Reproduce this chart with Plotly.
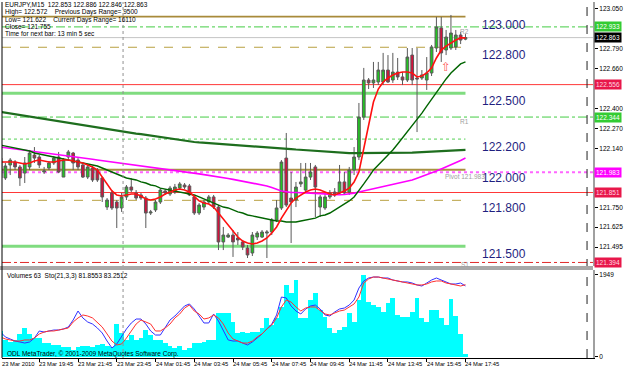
import plotly.graph_objects as go

# ---------------- data ----------------
bars = list(range(97))
time_tick_bars = [0, 8, 16, 24, 32, 40, 48, 56, 64, 72, 80, 88, 96]
time_tick_labels = ["23 Mar 2010", "23 Mar 19:45", "23 Mar 21:45", "23 Mar 23:45",
                    "24 Mar 01:45", "24 Mar 03:45", "24 Mar 05:45", "24 Mar 07:45",
                    "24 Mar 09:45", "24 Mar 11:45", "24 Mar 13:45", "24 Mar 15:45",
                    "24 Mar 17:45"]

opens = [122.076,121.946,122.031,122.050,122.018,121.978,122.018,122.096,122.083,121.985,
         122.011,122.044,122.083,121.952,122.083,122.109,122.063,122.031,121.952,122.011,
         121.998,121.946,121.756,121.848,121.789,121.750,121.822,121.887,121.848,121.835,
         121.815,121.717,121.737,121.789,121.861,121.841,121.854,121.880,121.900,121.894,
         121.822,121.717,121.756,121.789,121.822,121.756,121.528,121.560,121.573,121.554,
         121.528,121.488,121.456,121.560,121.560,121.586,121.593,121.671,121.750,122.076,
         121.815,121.802,121.907,121.867,121.952,122.018,121.756,121.750,121.822,121.854,
         121.848,121.920,121.854,121.998,122.083,122.344,122.586,122.567,122.573,122.573,
         122.651,122.586,122.638,122.606,122.586,122.749,122.599,122.599,122.586,122.632,
         122.795,122.926,122.782,122.795,122.802,122.880,122.853]
highs = [122.090,122.044,122.076,122.063,122.031,122.083,122.129,122.148,122.096,122.018,
         122.057,122.090,122.116,122.076,122.129,122.116,122.076,122.044,122.031,122.024,
         122.011,121.952,121.815,121.867,121.802,121.848,121.900,121.946,121.867,121.848,
         121.828,121.737,121.802,121.880,121.874,121.894,121.907,121.920,121.913,121.907,
         121.835,121.782,121.802,121.835,121.835,121.769,121.626,121.586,121.606,121.593,
         121.541,121.508,121.593,121.599,121.606,121.606,121.684,121.802,122.063,122.240,
         121.985,121.920,122.044,122.044,122.044,122.031,121.835,121.848,121.867,121.880,
         122.031,121.985,122.018,122.148,122.436,122.665,122.599,122.704,122.704,122.763,
         122.749,122.763,122.730,122.638,122.795,122.795,122.795,122.651,122.736,122.815,
         122.998,122.998,122.913,123.011,122.913,122.900,122.886]
lows = [121.926,121.933,121.965,121.998,121.894,121.913,121.998,122.044,122.011,121.972,
        121.998,122.031,121.978,121.952,122.063,121.998,121.998,121.946,121.939,121.920,
        121.920,121.789,121.737,121.737,121.619,121.724,121.802,121.854,121.802,121.802,
        121.619,121.704,121.724,121.776,121.835,121.828,121.841,121.867,121.874,121.828,
        121.704,121.704,121.737,121.776,121.743,121.475,121.475,121.554,121.430,121.508,
        121.475,121.423,121.436,121.541,121.554,121.423,121.573,121.658,121.737,121.756,
        121.521,121.756,121.887,121.854,121.933,121.691,121.691,121.737,121.809,121.822,
        121.835,121.835,121.835,121.965,122.063,122.325,122.527,122.534,122.553,122.553,
        122.567,122.567,122.586,122.553,122.573,122.553,122.246,122.586,122.521,122.612,
        122.769,122.704,122.749,122.782,122.782,122.821,122.846]
closes = [121.946,122.024,122.063,122.018,121.946,122.044,122.109,122.076,122.031,121.992,
          122.044,122.076,121.985,122.063,122.116,122.044,122.018,121.952,122.018,121.933,
          121.933,121.822,121.802,121.750,121.750,121.822,121.887,121.867,121.815,121.815,
          121.717,121.724,121.789,121.867,121.848,121.880,121.887,121.907,121.887,121.835,
          121.717,121.769,121.789,121.822,121.756,121.528,121.573,121.573,121.528,121.541,
          121.495,121.443,121.573,121.586,121.593,121.593,121.671,121.750,122.050,121.769,
          121.789,121.887,121.920,121.952,121.985,121.887,121.822,121.822,121.848,121.835,
          121.920,121.848,121.998,122.083,122.344,122.586,122.567,122.586,122.651,122.651,
          122.573,122.638,122.606,122.586,122.736,122.586,122.593,122.619,122.632,122.802,
          122.932,122.763,122.867,122.893,122.880,122.847,122.863]

ma_fast = [122.050,122.050,122.050,122.050,122.044,122.037,122.044,122.057,122.063,122.057,
           122.050,122.050,122.057,122.063,122.063,122.057,122.050,122.044,122.031,122.018,
           121.998,121.952,121.900,121.861,121.835,121.828,121.835,121.841,121.841,121.828,
           121.809,121.802,121.809,121.822,121.841,121.854,121.867,121.874,121.867,121.854,
           121.822,121.796,121.782,121.776,121.756,121.717,121.671,121.632,121.593,121.560,
           121.534,121.521,121.515,121.521,121.534,121.554,121.586,121.626,121.684,121.737,
           121.782,121.815,121.835,121.854,121.867,121.874,121.867,121.854,121.841,121.835,
           121.848,121.861,121.880,121.920,121.985,122.142,122.292,122.442,122.527,122.573,
           122.599,122.619,122.632,122.638,122.638,122.632,122.606,122.612,122.632,122.665,
           122.730,122.782,122.808,122.828,122.847,122.861,122.861]
ma_mid = [122.161,122.155,122.148,122.142,122.135,122.129,122.122,122.109,122.103,122.096,
          122.090,122.083,122.076,122.070,122.063,122.057,122.050,122.044,122.037,122.031,
          122.024,122.011,121.998,121.985,121.972,121.959,121.946,121.939,121.933,121.920,
          121.913,121.900,121.894,121.880,121.874,121.867,121.861,121.854,121.848,121.841,
          121.835,121.822,121.809,121.796,121.782,121.769,121.756,121.750,121.737,121.724,
          121.717,121.704,121.698,121.691,121.684,121.678,121.671,121.665,121.665,121.658,
          121.658,121.658,121.665,121.671,121.678,121.684,121.698,121.704,121.717,121.737,
          121.756,121.776,121.796,121.822,121.861,121.907,121.952,121.998,122.031,122.063,
          122.096,122.129,122.168,122.207,122.246,122.286,122.331,122.370,122.416,122.462,
          122.507,122.553,122.593,122.632,122.665,122.691,122.704]
ma_magenta = [122.148,122.144,122.140,122.137,122.133,122.129,122.125,122.121,122.117,122.113,
              122.109,122.105,122.100,122.095,122.091,122.086,122.081,122.077,122.072,122.068,
              122.063,122.059,122.054,122.050,122.045,122.041,122.036,122.032,122.027,122.023,
              122.018,122.014,122.010,122.006,122.002,121.998,121.994,121.990,121.986,121.982,
              121.978,121.973,121.968,121.962,121.957,121.952,121.947,121.942,121.937,121.931,
              121.926,121.920,121.913,121.907,121.900,121.894,121.883,121.872,121.861,121.856,
              121.851,121.851,121.850,121.849,121.849,121.848,121.845,121.842,121.838,121.835,
              121.836,121.838,121.841,121.847,121.854,121.861,121.867,121.874,121.880,121.887,
              121.894,121.902,121.910,121.918,121.926,121.933,121.944,121.955,121.966,121.978,
              121.991,122.005,122.018,122.031,122.045,122.060,122.076]
ma_slow = [122.377,122.372,122.367,122.361,122.356,122.351,122.346,122.340,122.335,122.330,
           122.325,122.320,122.314,122.309,122.304,122.299,122.293,122.288,122.283,122.277,
           122.272,122.268,122.263,122.259,122.254,122.250,122.245,122.241,122.236,122.232,
           122.227,122.222,122.218,122.213,122.208,122.204,122.199,122.195,122.190,122.186,
           122.181,122.178,122.176,122.173,122.171,122.168,122.165,122.163,122.160,122.158,
           122.155,122.153,122.151,122.149,122.147,122.145,122.143,122.141,122.139,122.137,
           122.135,122.132,122.130,122.127,122.125,122.122,122.119,122.117,122.114,122.112,
           122.109,122.109,122.108,122.108,122.108,122.108,122.108,122.108,122.108,122.108,
           122.108,122.109,122.109,122.109,122.109,122.111,122.113,122.115,122.117,122.119,
           122.120,122.122,122.123,122.125,122.126,122.128,122.129]

volumes = [618,404,357,404,547,689,547,452,452,333,
           333,285,285,238,238,166,238,261,261,238,
           285,309,261,238,784,570,404,523,404,452,
           642,523,404,404,333,261,214,261,166,214,
           333,333,357,404,404,1046,1046,1046,832,570,
           594,570,594,594,689,927,761,927,1189,1711,
           1521,1830,927,927,1355,1521,1117,951,689,570,
           642,713,1046,832,1355,1949,1307,1236,1189,1070,
           1284,1402,998,951,951,1070,1402,927,832,1117,
           1117,927,761,1379,975,547,63]
sto_main = [29.5,23.9,21.6,19.3,18.2,17.0,18.2,22.7,30.7,29.5,
            30.7,31.8,31.8,33.0,35.2,43.2,53.4,45.5,40.9,38.6,
            34.1,28.4,19.3,11.4,15.9,25.0,33.0,39.8,44.3,44.3,
            38.6,30.7,26.1,26.1,34.1,43.2,47.7,53.4,59.1,61.4,
            55.7,47.7,39.8,39.8,50.0,42.0,30.7,20.5,19.3,19.3,
            17.0,14.8,18.2,22.7,27.3,33.0,38.6,48.9,69.3,68.2,
            59.1,53.4,50.0,55.7,59.1,60.2,55.7,48.9,47.7,52.3,
            55.7,56.8,60.2,65.9,79.5,87.5,90.9,92.0,92.0,90.9,
            90.9,88.6,87.5,86.4,86.4,85.2,83.0,81.8,85.2,88.6,
            90.9,88.6,86.4,84.1,84.1,85.2,81.9]
sto_signal = [23.9,21.6,20.5,19.3,19.3,20.5,20.5,22.7,27.3,29.5,
              30.7,30.7,31.8,33.0,34.1,40.9,45.5,48.9,47.7,45.5,
              39.8,35.2,27.3,19.3,14.8,15.9,22.7,30.7,38.6,43.2,
              40.9,38.6,30.7,30.7,34.1,38.6,45.5,50.0,56.8,60.2,
              53.4,50.0,44.3,45.5,48.9,45.5,38.6,28.4,21.6,19.3,
              17.0,17.0,19.3,23.9,27.3,33.0,37.5,45.5,58.0,65.9,
              63.6,58.0,53.4,56.8,58.0,58.0,54.5,50.0,48.9,51.1,
              53.4,54.5,58.0,61.4,69.3,85.2,89.8,92.0,92.0,90.9,
              89.8,88.6,87.5,86.4,85.2,84.1,83.0,83.0,84.1,86.4,
              87.5,87.5,85.2,84.1,83.0,81.8,83.3]

price_ticks = [123.050, 122.920, 122.790, 122.660, 122.530, 122.400, 122.270,
               122.140, 122.010, 121.880, 121.750, 121.625, 121.495]
hidden_price_ticks = [122.920, 122.530, 122.010, 121.880]   # covered by price boxes
round_levels = [123.000, 122.800, 122.500, 122.200, 122.000, 121.800, 121.500]
round_labels = ["123.000", "122.800", "122.500", "122.200", "122.000", "121.800", "121.500"]
pivot_names = ["R2", "R1", "Pivot 121.983", "S1"]
pivot_levels = [122.933, 122.344, 121.983, 121.394]
red_levels = [122.556, 121.851]
current_price = 122.863
vol_ticks = [0, 1949]
info_lines = ["EURJPY,M15  122.853 122.886 122.846 122.863",
              "High= 122.572    Previous Days Range= 9500",
              "Low= 121.622    Current Days Range= 16110",
              "Close= 121.755",
              "Time for next bar: 13 min 5 sec"]
indicator_title = "Volumes 63  Sto(21,3,3) 81.8553 83.2512"
copyright_text = "ODL MetaTrader, © 2001-2009 MetaQuotes Software Corp."
day_separator_bar = 25.3
shift_bar = 121.1
last_bar = 96

FONT = "Liberation Sans, Arial, sans-serif"
XR = [0.305, 122.33]

fig = go.Figure()

# ---- indicator window ----
fig.add_trace(go.Bar(x=bars, y=volumes, marker=dict(color="#00FFFF", line=dict(width=0)),
                     width=1.0, xaxis="x2", yaxis="y2", hoverinfo="skip"))
fig.add_trace(go.Scatter(x=bars, y=sto_main, mode="lines", line=dict(color="#3030FF", width=1),
                         xaxis="x2", yaxis="y3", hoverinfo="skip"))
fig.add_trace(go.Scatter(x=bars, y=sto_signal, mode="lines", line=dict(color="#FF3030", width=1),
                         xaxis="x2", yaxis="y3", hoverinfo="skip"))

# ---- main window ----
fig.add_trace(go.Candlestick(x=bars, open=opens, high=highs, low=lows, close=closes,
                             increasing=dict(fillcolor="#22C422", line=dict(color="#5A5A5A", width=1)),
                             decreasing=dict(fillcolor="#D2123C", line=dict(color="#5A5A5A", width=1)),
                             whiskerwidth=0, xaxis="x", yaxis="y", hoverinfo="skip"))
fig.add_trace(go.Scatter(x=bars, y=ma_slow, mode="lines", line=dict(color="#1E6E1E", width=2.2),
                         xaxis="x", yaxis="y", hoverinfo="skip"))
fig.add_trace(go.Scatter(x=bars, y=ma_magenta, mode="lines", line=dict(color="#FF00FF", width=1.6),
                         xaxis="x", yaxis="y", hoverinfo="skip"))
fig.add_trace(go.Scatter(x=bars, y=ma_mid, mode="lines", line=dict(color="#006400", width=1.4),
                         xaxis="x", yaxis="y", hoverinfo="skip"))
fig.add_trace(go.Scatter(x=bars, y=ma_fast, mode="lines", line=dict(color="#FF1010", width=1.6),
                         xaxis="x", yaxis="y", hoverinfo="skip"))

shapes = []
# round-number levels (end at the last bar)
round_styles = [("#A88A3A", 1.6, "solid"), ("#B8A040", 1, "dash"), ("#80DC80", 3, "solid"),
                ("#55D055", 1, "dot"), ("#A89040", 2, "solid"), ("#B8A040", 1, "dash"),
                ("#80DC80", 3, "solid")]
for lv, (c, w, d) in zip(round_levels, round_styles):
    shapes.append(dict(type="line", xref="x", yref="y", x0=XR[0], x1=last_bar, y0=lv, y1=lv,
                       line=dict(color=c, width=w, dash=d), layer="below"))
# pivot levels (full width)
pivot_styles = [("#44CC44", 1, "dashdot"), ("#44CC44", 1, "dashdot"),
                ("#FF66FF", 2, "dot"), ("#E02828", 1, "dashdot")]
for lv, (c, w, d) in zip(pivot_levels, pivot_styles):
    shapes.append(dict(type="line", xref="paper", yref="y", x0=0, x1=1, y0=lv, y1=lv,
                       line=dict(color=c, width=w, dash=d), layer="below"))
for lv in red_levels:
    shapes.append(dict(type="line", xref="paper", yref="y", x0=0, x1=1, y0=lv, y1=lv,
                       line=dict(color="#FF3838", width=1), layer="below"))
shapes.append(dict(type="line", xref="paper", yref="y", x0=0, x1=1, y0=current_price, y1=current_price,
                   line=dict(color="#C4C4C4", width=1), layer="below"))
# separators / frame
shapes.append(dict(type="line", xref="x", yref="paper", x0=day_separator_bar, x1=day_separator_bar,
                   y0=0, y1=1, line=dict(color="#909090", width=1, dash="dot"), layer="above"))
shapes.append(dict(type="line", xref="x", yref="paper", x0=shift_bar, x1=shift_bar,
                   y0=0, y1=1, line=dict(color="#202020", width=1, dash="dash"), layer="above"))
shapes.append(dict(type="rect", xref="paper", yref="paper", x0=-0.01, x1=1.0, y0=0.2472, y1=0.2584,
                   line=dict(width=0), fillcolor="#A8A8A8", layer="above"))
shapes.append(dict(type="line", xref="paper", yref="paper", x0=0, x1=0, y0=0, y1=1,
                   line=dict(color="#000000", width=1), layer="above"))

annotations = []
# info text top-left
info_y = [4.5, 12.3, 19.7, 26.3, 33.8]
for txt, yy in zip(info_lines, info_y):
    annotations.append(dict(text=txt, xref="paper", yref="paper", x=0, y=1, xanchor="left",
                            yanchor="middle", xshift=1, yshift=-(yy - 2), showarrow=False,
                            font=dict(family=FONT, size=6.5, color="#000000")))
annotations.append(dict(text=indicator_title, xref="paper", yref="paper", x=0, y=0.2472,
                        xanchor="left", yanchor="middle", xshift=3, yshift=-6, showarrow=False,
                        font=dict(family=FONT, size=6.5, color="#000000")))
annotations.append(dict(text=copyright_text, xref="paper", yref="paper", x=0, y=0,
                        xanchor="left", yanchor="middle", xshift=3, yshift=4, showarrow=False,
                        font=dict(family=FONT, size=6.5, color="#000000")))
# round-number labels
for lv, lab in zip(round_levels, round_labels):
    annotations.append(dict(text=lab, xref="x", yref="y", x=99, y=lv, xanchor="left", yanchor="top",
                            showarrow=False, yshift=1, font=dict(family=FONT, size=12, color="#1F1F7F")))
# pivot labels
for lv, lab in zip(pivot_levels, pivot_names):
    annotations.append(dict(text=lab, xref="x", yref="y", x=95.8, y=lv, xanchor="center", yanchor="top",
                            showarrow=False, yshift=(3 if lab == "S1" else 1),
                            font=dict(family=FONT, size=6.5, color="#A0A0A0")))
# price boxes on the right axis
box_specs = [(pivot_levels[0], "#33CC33", "#FFFFFF"), (current_price, "#000000", "#FFFFFF"),
             (red_levels[0], "#E8174A", "#FFD8E0"), (pivot_levels[1], "#33CC33", "#FFFFFF"),
             (pivot_levels[2], "#FF00FF", "#FFFFFF"), (red_levels[1], "#E8174A", "#FFD8E0"),
             (pivot_levels[3], "#E8174A", "#FFD8E0")]
for lv, bg, fc in box_specs:
    annotations.append(dict(text=f"{lv:.3f}", xref="paper", yref="y", x=1, y=lv, xanchor="left",
                            yanchor="middle", xshift=1, showarrow=False, bgcolor=bg, borderpad=1,
                            font=dict(family=FONT, size=6.5, color=fc)))
# up arrow marker
annotations.append(dict(text="⇧", xref="x", yref="y", x=91.9, y=122.671, showarrow=False,
                        font=dict(family="DejaVu Sans", size=12, color="#FF5A5A")))
# time labels (anchored at their tick, text to the right)
for b, lab in zip(time_tick_bars, time_tick_labels):
    annotations.append(dict(text=lab, xref="paper", yref="paper",
                            x=(max(b, XR[0]) - XR[0]) / (XR[1] - XR[0]), y=0,
                            xanchor="left", yanchor="top", xshift=-2, yshift=-1, showarrow=False,
                            font=dict(family=FONT, size=5.8, color="#000000")))

fig.update_layout(
    width=625, height=370, margin=dict(l=2, r=22, t=2, b=12),
    paper_bgcolor="#FFFFFF", plot_bgcolor="#FFFFFF", showlegend=False, bargap=0, boxgap=0.2,
    font=dict(family=FONT, size=6.5, color="#000000"),
    xaxis=dict(domain=[0, 1], range=XR, anchor="y", showgrid=False, zeroline=False,
               showticklabels=False, ticks="", rangeslider=dict(visible=False), fixedrange=True),
    yaxis=dict(domain=[0.2584, 1], range=[121.3708, 123.0957], side="right", anchor="x",
               showgrid=False, zeroline=False, tickvals=price_ticks,
               ticktext=["" if v in hidden_price_ticks else f"{v:.3f}" for v in price_ticks],
               ticks="outside", ticklen=3,
               tickcolor="#000000", showline=True, linecolor="#A0A0A0", linewidth=2,
               tickfont=dict(family=FONT, size=6.5, color="#000000")),
    xaxis2=dict(domain=[0, 1], range=XR, anchor="y2", showgrid=False, zeroline=False,
                showticklabels=False, tickvals=time_tick_bars, ticks="outside", ticklen=3,
                tickcolor="#000000", showline=True, linecolor="#000000", linewidth=1),
    yaxis2=dict(domain=[0, 0.2472], range=[-23.8, 2067.8], side="right", anchor="x2",
                showgrid=False, zeroline=False, tickvals=vol_ticks,
                ticktext=[str(v) for v in vol_ticks], ticks="outside", ticklen=3,
                tickcolor="#000000", showline=True, linecolor="#A0A0A0", linewidth=2,
                tickfont=dict(family=FONT, size=6.5, color="#000000")),
    yaxis3=dict(overlaying="y2", range=[0, 100], visible=False, anchor="x2"),
    shapes=shapes, annotations=annotations,
)

fig.write_html("out.html", config={"displayModeBar": False})
